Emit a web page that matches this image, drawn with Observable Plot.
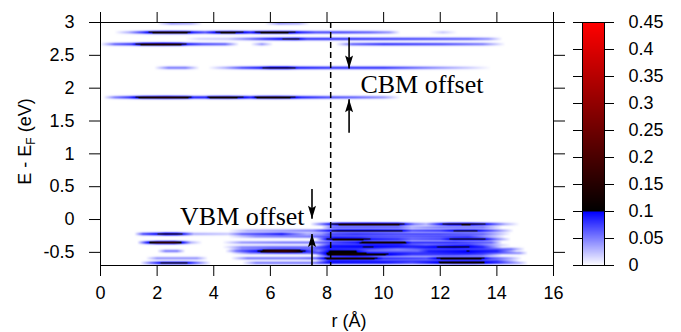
<!DOCTYPE html>
<html><head><meta charset="utf-8">
<script src="https://cdn.jsdelivr.net/npm/d3@7"></script>
<script src="https://cdn.jsdelivr.net/npm/@observablehq/plot@0.6"></script>
<style>
body{margin:0;background:#fff;}
#wrap{position:relative;width:681px;height:332px;overflow:hidden;}
#wrap svg{position:absolute;left:0;top:0;}
</style></head><body><div id="wrap"></div>
<script>
// ---- axis ticks ----
const xTicks = [0, 2, 4, 6, 8, 10, 12, 14, 16];
const yTicks = [3, 2.5, 2, 1.5, 1, 0.5, 0, -0.5];
const yTickLabels = ["3", "2.5", "2", "1.5", "1", "0.5", "0", "-0.5"];
const cbTicks = [0, 0.05, 0.1, 0.15, 0.2, 0.25, 0.3, 0.35, 0.4, 0.45];
const cbTickLabels = ["0", "0.05", "0.1", "0.15", "0.2", "0.25", "0.3", "0.35", "0.4", "0.45"];

// ---- colour palette (value stops -> colours) ----
const colorStops = [0, 0.0999, 0.1, 0.45];
const colorRange = ["white", "blue", "black", "red"];

// ---- LDOS bands: energy (eV) and intensity profile along r, as [r (Å), value] ----
const bandEnergies = [2.985, 2.85, 2.75, 2.67, 2.31, 1.86,
  -0.07, -0.12, -0.17, -0.22, -0.26, -0.30, -0.35, -0.39, -0.42, -0.45, -0.48, -0.51, -0.54, -0.59, -0.63, -0.66];
const bandProfiles = [
  [[2.0,0],[2.5,0.04],[3.2,0.03],[3.6,0],[5.8,0],[6.3,0.04],[7.0,0.03],[7.4,0]],
  [[0.5,0],[1.0,0.03],[1.5,0.08],[1.9,0.13],[2.5,0.14],[3.0,0.13],[3.3,0.09],[3.7,0.07],[4.2,0.12],[4.6,0.13],[5.0,0.11],[5.3,0.09],[5.6,0.12],[6.2,0.13],[6.7,0.12],[7.1,0.09],[7.6,0.07],[8.5,0.07],[9.5,0.06],[10.2,0.04],[10.6,0],[11.6,0],[12.1,0.02],[12.6,0]],
  [[3.0,0],[3.5,0.015],[4.5,0.02],[5.2,0.05],[5.8,0.08],[6.4,0.10],[6.9,0.11],[7.3,0.08],[8.5,0.08],[11,0.07],[13,0.06],[13.7,0.04],[14.2,0]],
  [[0,0],[0.5,0.06],[1.1,0.08],[1.5,0.15],[2.2,0.17],[2.8,0.15],[3.1,0.09],[3.6,0.07],[4.4,0.06],[4.9,0],[5.3,0],[5.7,0.04],[6.1,0],[8.3,0],[8.9,0.06],[10,0.08],[12,0.07],[13.5,0.05],[14.3,0]],
  [[1.9,0],[2.4,0.05],[3.0,0.05],[3.5,0],[3.8,0],[4.4,0.03],[5.0,0.07],[5.6,0.09],[6.0,0.13],[6.6,0.13],[7.0,0.09],[8,0.08],[10,0.08],[11,0.06],[12,0.04],[13,0.02],[13.8,0]],
  [[0.1,0],[0.5,0.05],[1.0,0.08],[1.5,0.14],[2.3,0.16],[3.0,0.14],[3.3,0.09],[3.7,0.09],[3.9,0.13],[4.5,0.14],[5.0,0.11],[5.3,0.09],[5.6,0.13],[6.2,0.14],[6.7,0.12],[7.1,0.09],[8,0.07],[9,0.06],[10,0.04],[10.6,0]],
  [[7.4,0],[8.0,0.08],[8.5,0.15],[9.5,0.16],[10.5,0.15],[10.8,0.09],[11.1,0.05],[11.5,0.03],[11.9,0.08],[12.3,0.13],[13,0.14],[13.5,0.11],[13.9,0.07],[14.3,0.03],[14.8,0]],
  [[7.8,0],[8.2,0.06],[10.5,0.06],[11,0.03],[12,0.05],[13.5,0.05],[14.2,0]],
  [[4.5,0],[5.2,0.03],[6.5,0.04],[7.5,0.05],[8.0,0.09],[8.4,0.12],[9.5,0.12],[10.6,0.11],[11,0.07],[12,0.08],[12.6,0.11],[13.2,0.11],[13.8,0.07],[14.6,0]],
  [[1.2,0],[1.5,0.07],[2.0,0.1],[2.3,0.14],[2.7,0.13],[3.0,0.08],[3.3,0.03],[4.5,0.02],[5.0,0.06],[6.0,0.08],[6.4,0.09],[6.8,0.06],[7.3,0.03],[7.8,0.04],[8.1,0.07],[9,0.08],[10.5,0.07],[12,0.07],[13.5,0.06],[14.5,0]],
  [[4.5,0],[5.5,0.04],[7.3,0.05],[8.1,0.07],[11,0.06],[13,0.07],[14.3,0]],
  [[7.6,0],[8.0,0.1],[8.3,0.14],[9.2,0.13],[9.6,0.09],[10.5,0.08],[11,0.06],[12,0.07],[12.5,0.11],[13.5,0.11],[14,0.05],[14.5,0]],
  [[1.3,0],[1.6,0.08],[2.0,0.17],[2.6,0.18],[2.9,0.1],[3.2,0.03],[3.6,0],[4.3,0],[5,0.04],[6.5,0.05],[7.5,0.05],[8.0,0.07],[9.0,0.09],[9.5,0.13],[10.6,0.13],[11,0.08],[12.5,0.08],[13.8,0.06],[14.2,0]],
  [[7.6,0],[8.1,0.07],[10.5,0.07],[11.5,0.05],[13,0.07],[14.5,0]],
  [[4.3,0],[5,0.04],[6,0.05],[7.5,0.05],[8,0.07],[9.5,0.08],[11,0.07],[12.5,0.09],[13.5,0.07],[14.2,0]],
  [[4.5,0],[5,0.03],[7.5,0.04],[8.1,0.06],[9.5,0.05],[10.5,0.03],[11.5,0.05],[14.5,0.05],[15,0]],
  [[2.0,0],[2.3,0.05],[2.7,0.05],[3.0,0],[4.4,0],[4.8,0.05],[5.5,0.08],[5.9,0.16],[6.5,0.18],[6.9,0.15],[7.3,0.07],[7.7,0.03],[8.1,0.08],[9,0.08],[9.5,0.04],[11.2,0.04],[11.6,0.07],[13,0.08],[14,0.07],[14.7,0]],
  [[4.6,0],[5.3,0.04],[7.3,0.05],[8.1,0.08],[10,0.07],[11.5,0.06],[13,0.07],[14.8,0.04],[15.1,0]],
  [[7.6,0],[8.1,0.1],[9,0.12],[10,0.09],[11,0.06],[12.5,0.06],[13.5,0.05],[14.2,0]],
  [[1.6,0],[2,0.04],[3.4,0.04],[3.8,0],[4.6,0],[5.2,0.05],[7,0.05],[7.6,0.06],[8.1,0.13],[9.5,0.13],[10,0.08],[11.5,0.07],[12.1,0.12],[13.4,0.12],[13.8,0.07],[14.5,0.03],[14.9,0]],
  [[7.6,0],[8.1,0.07],[11,0.06],[14,0.06],[14.8,0]],
  [[1.4,0],[1.8,0.06],[2.2,0.11],[3,0.11],[3.4,0.06],[3.9,0],[5,0],[5.5,0.05],[7.5,0.05],[8,0.08],[10,0.08],[11,0.06],[12.5,0.11],[13.2,0.11],[14,0.07],[14.8,0.03],[15.1,0]]
];

// ---- annotations ----
const interfaceR = [8.13];
const arrowR = [8.78, 8.78, 7.47, 7.47];
const arrowFrom = [2.77, 1.32, 0.465, -0.7];
const arrowTo = [2.30, 1.83, 0.01, -0.22];
const noteText = ["CBM offset", "VBM offset"];
const noteR = [9.18, 2.81];
const noteE = [1.93, -0.084];

// ---------------------------------------------------------------
const bandSigma = 0.016;
function profileAt(p, r) {
  if (r <= p[0][0] || r >= p[p.length - 1][0]) return 0;
  for (let i = 1; i < p.length; i++) {
    if (r <= p[i][0]) {
      const [r0, v0] = p[i - 1], [r1, v1] = p[i];
      return v0 + (v1 - v0) * (r - r0) / (r1 - r0);
    }
  }
  return 0;
}
function ldos(r, E) {
  let s = 0;
  for (let k = 0; k < bandEnergies.length; k++) {
    const d = (E - bandEnergies[k]) / bandSigma;
    if (Math.abs(d) > 4) continue;
    s += profileAt(bandProfiles[k], r) * Math.exp(-0.5 * d * d);
  }
  return Math.min(s, 0.45);
}

const arrows = arrowR.map((r, i) => ({r, from: arrowFrom[i], to: arrowTo[i]}));
const notes = noteText.map((t, i) => ({t, r: noteR[i], E: noteE[i]}));
const arrowHead = {
  draw(ctx) {
    ctx.moveTo(0, 0); ctx.lineTo(4, 13); ctx.lineTo(0, 10.5); ctx.lineTo(-4, 13); ctx.closePath();
  }
};

const sans = "'Liberation Sans', Arial, Helvetica, sans-serif";
const serif = "'Liberation Serif', 'Times New Roman', serif";
const colorScale = {type: "linear", domain: colorStops, range: colorRange, interpolate: "rgb"};

const main = Plot.plot({
  width: 681, height: 332,
  marginLeft: 100, marginRight: 128, marginTop: 22, marginBottom: 67,
  style: {fontFamily: sans, fontSize: "18px", color: "black", background: "white"},
  x: {domain: [0, 16], label: null},
  y: {domain: [-0.7, 3], label: null},
  color: colorScale,
  marks: [
    Plot.raster({fill: ldos, x1: 0, x2: 16, y1: -0.7, y2: 3}),
    Plot.ruleX(interfaceR, {stroke: "black", strokeWidth: 1.5, strokeDasharray: "6,4"}),
    Plot.link(arrows, {x1: "r", x2: "r", y1: "from", y2: "to", stroke: "black", strokeWidth: 1.6}),
    Plot.dot(arrows, {x: "r", y: "to", r: 5, symbol: arrowHead, fill: "black", stroke: null,
      rotate: d => (d.to < d.from ? 180 : 0)}),
    Plot.text(notes, {x: "r", y: "E", text: "t", textAnchor: "start", lineAnchor: "bottom",
      fontSize: 26, fontFamily: serif, fill: "black"}),
    Plot.frame({stroke: "black"}),
    Plot.axisX(xTicks, {anchor: "bottom", tickSize: 11, tickPadding: 10, fontSize: 18, label: null,
      tickFormat: d => String(d)}),
    Plot.axisX(xTicks, {anchor: "top", tickSize: 11, label: null, tickFormat: () => ""}),
    Plot.axisY(yTicks, {anchor: "left", tickSize: 11, tickPadding: 15, fontSize: 18, label: null,
      tickFormat: d => yTickLabels[yTicks.indexOf(d)]}),
    Plot.axisY(yTicks, {anchor: "right", tickSize: 11, label: null, tickFormat: () => ""})
  ]
});

const cbar = Plot.plot({
  width: 681, height: 332,
  marginLeft: 582, marginRight: 77, marginTop: 22, marginBottom: 67,
  style: {fontFamily: sans, fontSize: "18px", color: "black", background: "transparent"},
  x: {domain: [0, 1], axis: null},
  y: {domain: [0, 0.45], label: null},
  color: colorScale,
  marks: [
    Plot.raster({fill: (x, y) => y, x1: 0, x2: 1, y1: 0, y2: 0.45}),
    Plot.frame({stroke: "black"}),
    Plot.axisY(cbTicks, {anchor: "left", tickSize: 9, label: null, tickFormat: () => ""}),
    Plot.axisY(cbTicks, {anchor: "right", tickSize: 9, tickPadding: 15, fontSize: 18, label: null,
      tickFormat: d => cbTickLabels[cbTicks.indexOf(d)]})
  ]
});

const wrap = document.getElementById("wrap");
wrap.appendChild(main);
wrap.appendChild(cbar);
cbar.style.pointerEvents = "none";

// axis titles
const svg = d3.select(main);
const yl = svg.append("text")
  .attr("transform", "translate(31,141.5) rotate(-90)")
  .attr("text-anchor", "middle")
  .attr("font-family", sans).attr("font-size", 18).attr("fill", "black");
yl.append("tspan").text("E - E");
yl.append("tspan").attr("font-size", 12).attr("dy", 4).text("F");
yl.append("tspan").attr("dy", -4).text(" (eV)");
svg.append("text")
  .attr("x", 349).attr("y", 327)
  .attr("text-anchor", "middle")
  .attr("font-family", sans).attr("font-size", 18).attr("fill", "black")
  .text("r (Å)");
</script></body></html>
